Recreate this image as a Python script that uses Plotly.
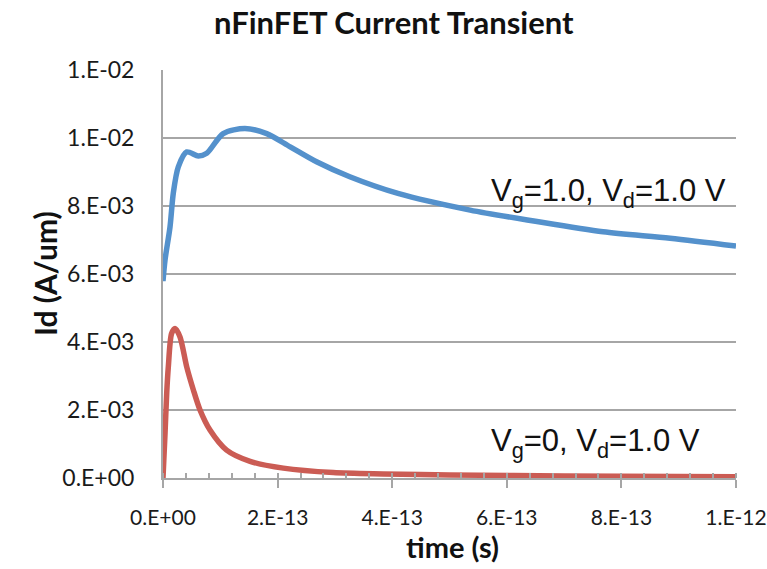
import plotly.graph_objects as go

# ---- data ----
blue_t = [0, 3.5e-15, 1.22e-14, 1.8e-14, 2.67e-14, 4.14e-14, 6.16e-14, 7.63e-14,
          1.05e-13, 1.43e-13, 1.81e-13, 2.22e-13, 2.68e-13, 3.26e-13, 4.1e-13,
          5.36e-13, 6.5e-13, 7.68e-13, 8.85e-13, 1.0e-12]
blue_id = [5.79e-3, 6.41e-3, 7.38e-3, 8.38e-3, 9.15e-3, 9.59e-3, 9.47e-3, 9.55e-3,
           1.013e-2, 1.028e-2, 1.013e-2, 9.74e-3, 9.30e-3, 8.86e-3, 8.37e-3,
           7.88e-3, 7.55e-3, 7.24e-3, 7.05e-3, 6.82e-3]

red_t = [0, 3.5e-15, 6.5e-15, 9.3e-15, 1.5e-14, 2.1e-14, 2.97e-14, 4.14e-14,
         5.3e-14, 6.46e-14, 8.2e-14, 1.11e-13, 1.52e-13, 2.1e-13, 2.97e-13,
         3.84e-13, 5.0e-13, 7.0e-13, 1.0e-12]
red_id = [0, 1.3e-3, 2.5e-3, 3.27e-3, 4.25e-3, 4.40e-3, 4.15e-3, 3.27e-3,
          2.59e-3, 2.0e-3, 1.41e-3, 8.2e-4, 4.9e-4, 2.9e-4, 1.6e-4,
          1.2e-4, 9e-5, 6e-5, 4e-5]

x_tickvals = [0, 2e-13, 4e-13, 6e-13, 8e-13, 1e-12]
x_ticktext = ["0.E+00", "2.E-13", "4.E-13", "6.E-13", "8.E-13", "1.E-12"]
y_tickvals = [0, 0.002, 0.004, 0.006, 0.008, 0.010, 0.012]
y_ticktext = ["0.E+00", "2.E-03", "4.E-03", "6.E-03", "8.E-03", "1.E-02", "1.E-02"]

title_text = "nFinFET Current Transient"
x_title = "time (s)"
y_title = "Id (A/um)"
label_on = "V<sub>g</sub>=1.0, V<sub>d</sub>=1.0 V"
label_off = "V<sub>g</sub>=0, V<sub>d</sub>=1.0 V"

BLUE = "rgb(84,145,204)"
RED = "rgb(203,92,84)"
GRID = "#a6a6a6"

fig = go.Figure()
fig.add_trace(go.Scatter(x=blue_t, y=blue_id, mode="lines",
                         line=dict(color=BLUE, width=5.5, shape="spline", smoothing=0.8),
                         showlegend=False, hoverinfo="skip"))
fig.add_trace(go.Scatter(x=red_t, y=red_id, mode="lines",
                         line=dict(color=RED, width=5.5, shape="spline", smoothing=0.8),
                         showlegend=False, hoverinfo="skip"))

fig.update_layout(
    width=767, height=569,
    margin=dict(l=163, r=31, t=70, b=91, autoexpand=False),
    paper_bgcolor="white", plot_bgcolor="white",
    font=dict(family="Lato", color="#1a1a1a"),
    showlegend=False,
)

fig.update_xaxes(
    range=[0, 1e-12], tickmode="array", tickvals=x_tickvals, ticktext=x_ticktext,
    showgrid=False, zeroline=False,
    showline=True, linecolor=GRID, linewidth=2,
    ticks="outside", ticklen=8, tickwidth=2, tickcolor=GRID,
    tickfont=dict(family="Lato", size=21, color="#1a1a1a"),
    ticklabelstandoff=12,
    minor=dict(dtick=4e-14, ticks="inside", ticklen=5, tickwidth=1.5, tickcolor=GRID, showgrid=False),
)
fig.update_yaxes(
    range=[0, 0.012], tickmode="array", tickvals=y_tickvals, ticktext=y_ticktext,
    showgrid=True, gridcolor=GRID, gridwidth=2, zeroline=False,
    showline=True, linecolor=GRID, linewidth=2,
    ticks="", ticklabelstandoff=22,
    tickfont=dict(family="Lato", size=23, color="#1a1a1a"),
)

fig.add_annotation(text="<b>" + title_text + "</b>", xref="paper", yref="paper",
                   x=(394 - 163) / 573, y=1 + (70 - 22) / 408, xanchor="center", yanchor="middle",
                   showarrow=False, font=dict(family="Lato", size=31, color="#111"))
fig.add_annotation(text="<b>" + x_title + "</b>", xref="paper", yref="paper",
                   x=(452 - 163) / 573, y=-(546 - 478) / 408, xanchor="center", yanchor="middle",
                   showarrow=False, font=dict(family="Lato", size=29, color="#111"))
fig.add_annotation(text="<b>" + y_title + "</b>", xref="paper", yref="paper",
                   x=-(163 - 45) / 573, y=(478 - 274) / 408, xanchor="center", yanchor="middle",
                   textangle=-90, showarrow=False, font=dict(family="Lato", size=30, color="#111"))

fig.add_annotation(text=label_on, xref="paper", yref="paper",
                   x=(489 - 163) / 573, y=(478 - 193) / 408, xanchor="left", yanchor="middle",
                   showarrow=False, font=dict(family="Liberation Sans", size=31, color="#111"))
fig.add_annotation(text=label_off, xref="paper", yref="paper",
                   x=(489 - 163) / 573, y=(478 - 443) / 408, xanchor="left", yanchor="middle",
                   showarrow=False, font=dict(family="Liberation Sans", size=31, color="#111"))

fig.write_html("out.html")
